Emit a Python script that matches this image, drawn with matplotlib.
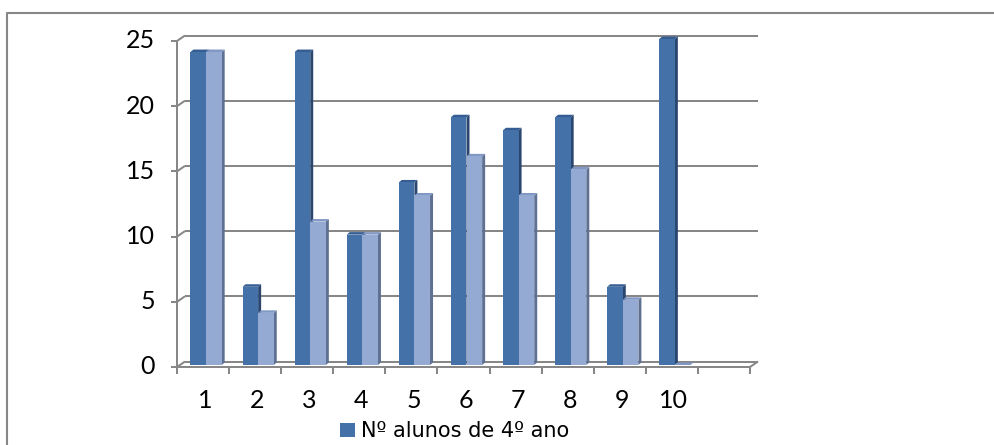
import matplotlib
matplotlib.use('Agg')
import matplotlib.pyplot as plt
import numpy as np
from matplotlib import transforms
from matplotlib.lines import Line2D
from matplotlib.patches import Polygon, Rectangle

# dados do gráfico
categorias = ['1', '2', '3', '4', '5', '6', '7', '8', '9', '10', '']
serie_1 = [24, 6, 24, 10, 14, 19, 18, 19, 6, 25]
serie_2 = [24, 4, 11, 10, 13, 16, 13, 15, 5, 0]
marcas_y = [0, 5, 10, 15, 20, 25]
legenda = 'Nº alunos de 4º ano'

plt.rcParams['font.family'] = ['Lato', 'DejaVu Sans']

W, H = 994, 445
fig = plt.figure(figsize=(W / 100, H / 100), dpi=100)
fig.patch.set_facecolor('white')

# eixo no plano da frente; a parede do fundo é desenhada com deslocamento
ax = fig.add_axes([177 / W, 1 - 367 / H, (750 - 177) / W, (367 - 41) / H])
ax.set_xlim(0.5, len(categorias) + 0.5)
ax.set_ylim(0, 25)
ax.axis('off')

fundo = np.array([8, 5.5])     # profundidade da parede (px)
desloc = np.array([3, 2])      # face da frente das barras
prof = np.array([3, 2.5])      # espessura das barras

cinza = '#878787'
lw = 1.45
ident = transforms.IdentityTransform()


def px(x, y):
    return ax.transData.transform((x, y))


def linha(p0, p1, z=1):
    ax.add_line(Line2D([p0[0], p1[0]], [p0[1], p1[1]], color=cinza, lw=lw,
                       transform=ident, clip_on=False, zorder=z,
                       solid_capstyle='butt'))


x0, x1 = 0.5, len(categorias) + 0.5

# grade na parede do fundo e diagonais da parede lateral
for v in marcas_y:
    linha(px(x0, v) + fundo, px(x1, v) + fundo)
    linha(px(x0, v), px(x0, v) + fundo)
    linha(px(x0, v) - np.array([6, 0]), px(x0, v))

# eixo vertical e chão
linha(px(x0, 0), px(x0, 25))
linha(px(x0, 0), px(x1, 0))
linha(px(x1, 0), px(x1, 0) + fundo)
for i in range(len(categorias) + 1):
    linha(px(x0 + i, 0), px(x0 + i, 0) - np.array([0, 7]))

# rótulos
for v in marcas_y:
    p = px(x0, v)
    fig.text(p[0] - 22, p[1], str(v), ha='right', va='center',
             fontsize=18, transform=ident)
for i, c in enumerate(categorias):
    p = px(i + 1, 0)
    fig.text(p[0] + 2, p[1] - 33, c, ha='center', va='center',
             fontsize=18, transform=ident)

# barras com efeito 3D
frente = transforms.offset_copy(ax.transData, fig=fig, x=desloc[0],
                                y=desloc[1], units='dots')
cores = [('#4571a9', '#355d92', '#2b4770'),
         ('#95aad3', '#8197c4', '#5f7193')]
larg = 0.3
z = 3
for i in range(len(serie_1)):
    for k, (serie, (cf, ct, cl)) in enumerate(zip([serie_1, serie_2], cores)):
        xc = i + 1 - larg / 2 + k * larg
        h = serie[i]
        b = px(xc + larg / 2, 0) + desloc
        c = px(xc + larg / 2, h) + desloc
        d = px(xc - larg / 2, h) + desloc
        ax.add_patch(Polygon([b, c, c + prof, b + prof], closed=True,
                             facecolor=cl, edgecolor='none', transform=ident,
                             clip_on=False, zorder=z))
        ax.add_patch(Polygon([d, c, c + prof, d + prof], closed=True,
                             facecolor=ct, edgecolor='none', transform=ident,
                             clip_on=False, zorder=z))
        ax.bar(xc, h, width=larg, color=cf, transform=frente,
               clip_on=False, zorder=z + 1)
        z += 2

# legenda (fonte com º sublinhado)
fig.patches.append(Rectangle((340, H - 437), 15, 14, transform=ident,
                             facecolor=cores[0][0], edgecolor='none'))
fig.text(361, H - 437, legenda, ha='left', va='baseline', fontsize=15,
         family=['DejaVu Sans'], transform=ident)

# moldura
fig.add_artist(Line2D([7, 7, W], [0, H - 13, H - 13], color=cinza, lw=1.5,
                      transform=ident))

fig.savefig('out.png', dpi=100)
